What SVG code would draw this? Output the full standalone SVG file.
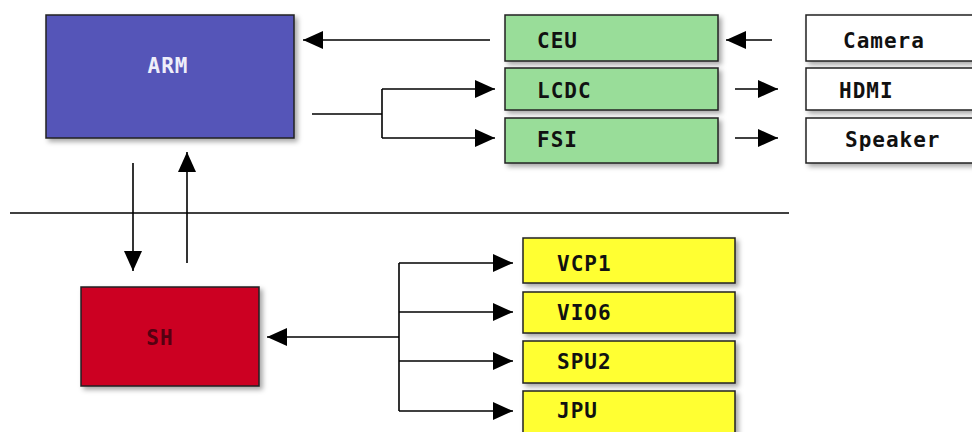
<svg xmlns="http://www.w3.org/2000/svg" width="972" height="432" viewBox="0 0 972 432">
<defs>
<filter id="sh" x="-10%" y="-10%" width="130%" height="140%">
<feDropShadow dx="3" dy="3" stdDeviation="2.5" flood-color="#000" flood-opacity="0.35"/>
</filter>
<marker id="ah" viewBox="0 0 10 10" refX="10" refY="5" markerWidth="20" markerHeight="18" markerUnits="userSpaceOnUse" orient="auto" preserveAspectRatio="none">
<path d="M0,0 L10,5 L0,10 z" fill="#000"/>
</marker>
<style>
.box{stroke:#222;stroke-width:1.5;filter:url(#sh)}
.t{font-family:"DejaVu Sans Mono","Liberation Mono",monospace;font-weight:bold;font-size:21px;letter-spacing:1px}
.c{fill:none;stroke:#000;stroke-width:1.6}
</style>
</defs>
<rect width="972" height="432" fill="#fff"/>
<g id="connectors">
<line class="c" x1="490" y1="40" x2="303" y2="40" marker-end="url(#ah)"/>
<line class="c" x1="772" y1="40" x2="726" y2="40" marker-end="url(#ah)"/>
<line class="c" x1="735" y1="89" x2="778" y2="89" marker-end="url(#ah)"/>
<line class="c" x1="735" y1="138" x2="778" y2="138" marker-end="url(#ah)"/>
<line class="c" x1="312" y1="114" x2="382" y2="114"/>
<line class="c" x1="382" y1="89" x2="382" y2="138"/>
<line class="c" x1="382" y1="89" x2="495" y2="89" marker-end="url(#ah)"/>
<line class="c" x1="382" y1="138" x2="495" y2="138" marker-end="url(#ah)"/>
<line class="c" x1="10" y1="213" x2="789" y2="213"/>
<line class="c" x1="133" y1="163" x2="133" y2="271" marker-end="url(#ah)"/>
<line class="c" x1="187" y1="263" x2="187" y2="152" marker-end="url(#ah)"/>
<line class="c" x1="399" y1="337" x2="267" y2="337" marker-end="url(#ah)"/>
<line class="c" x1="399" y1="263" x2="399" y2="411"/>
<line class="c" x1="399" y1="263" x2="513" y2="263" marker-end="url(#ah)"/>
<line class="c" x1="399" y1="312" x2="513" y2="312" marker-end="url(#ah)"/>
<line class="c" x1="399" y1="361" x2="513" y2="361" marker-end="url(#ah)"/>
<line class="c" x1="399" y1="411" x2="513" y2="411" marker-end="url(#ah)"/>
</g>
<g id="ARM">
<rect class="box" x="46" y="15" width="248" height="123" fill="#5555b8"/>
<text class="t" x="168" y="73" text-anchor="middle" fill="#eeeefa">ARM</text>
</g>
<g id="CEU">
<rect class="box" x="505" y="15" width="213" height="46" fill="#99dd99"/>
<text class="t" x="537" y="48" fill="#111">CEU</text>
</g>
<g id="LCDC">
<rect class="box" x="505" y="68" width="213" height="42" fill="#99dd99"/>
<text class="t" x="537" y="98" fill="#111">LCDC</text>
</g>
<g id="FSI">
<rect class="box" x="505" y="118" width="213" height="45" fill="#99dd99"/>
<text class="t" x="537" y="147" fill="#111">FSI</text>
</g>
<g id="Camera">
<rect class="box" x="806" y="15" width="180" height="46" fill="#fff"/>
<text class="t" x="843" y="48" fill="#111">Camera</text>
</g>
<g id="HDMI">
<rect class="box" x="806" y="68" width="180" height="42" fill="#fff"/>
<text class="t" x="839" y="98" fill="#111">HDMI</text>
</g>
<g id="Speaker">
<rect class="box" x="806" y="118" width="180" height="45" fill="#fff"/>
<text class="t" x="845" y="147" fill="#111">Speaker</text>
</g>
<g id="SH">
<rect class="box" x="81" y="287" width="178" height="99" fill="#cc0022"/>
<text class="t" x="160" y="345" text-anchor="middle" fill="#550011">SH</text>
</g>
<g id="VCP1">
<rect class="box" x="523" y="238" width="212" height="45" fill="#ffff33"/>
<text class="t" x="557" y="271" fill="#111">VCP1</text>
</g>
<g id="VIO6">
<rect class="box" x="523" y="292" width="212" height="41" fill="#ffff33"/>
<text class="t" x="557" y="320" fill="#111">VIO6</text>
</g>
<g id="SPU2">
<rect class="box" x="523" y="341" width="212" height="42" fill="#ffff33"/>
<text class="t" x="557" y="369" fill="#111">SPU2</text>
</g>
<g id="JPU">
<rect class="box" x="523" y="391" width="212" height="50" fill="#ffff33"/>
<text class="t" x="557" y="418" fill="#111">JPU</text>
</g>
</svg>
